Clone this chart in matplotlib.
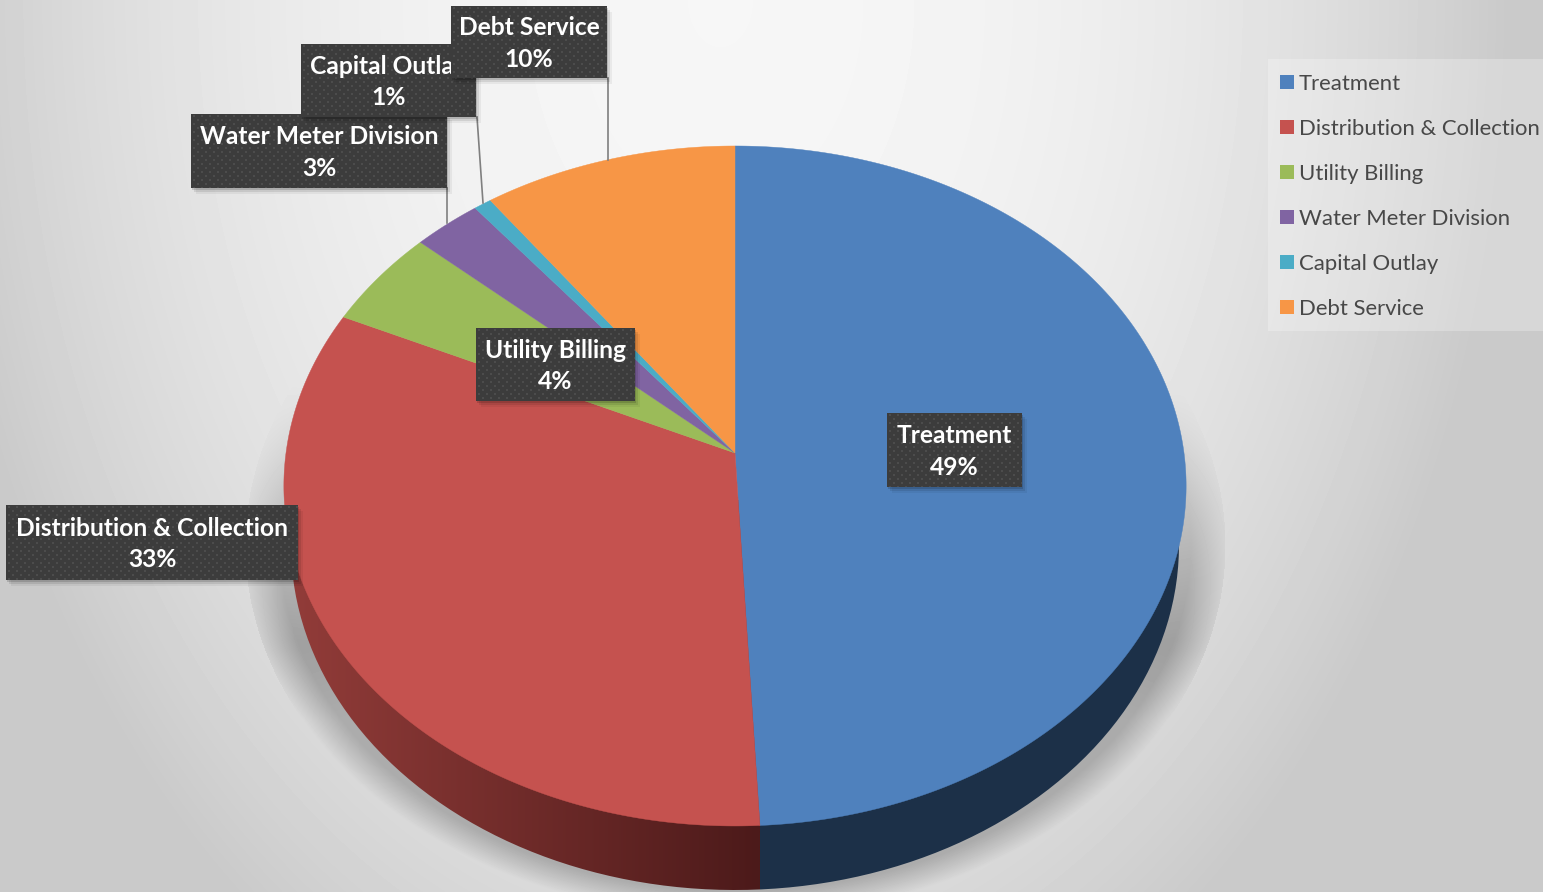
import numpy as np
import matplotlib
matplotlib.use('Agg')
import matplotlib.pyplot as plt
from matplotlib.patches import Rectangle, Patch, PathPatch
from matplotlib.path import Path

plt.rcParams['font.family'] = ['Lato', 'DejaVu Sans']

# Slice shares, labels as printed on it.
names = ['Treatment', 'Distribution & Collection', 'Utility Billing',
         'Water Meter Division', 'Capital Outlay', 'Debt Service']
shares = [49.2, 32.7, 4.7, 2.7, 0.7, 10.0]
printed = ['49%', '33%', '4%', '3%', '1%', '10%']
colors = ['#4f81bd', '#c5524f', '#9bbb59', '#8064a2', '#4bacc6', '#f79646']

# Label boxes in pixels: left, top, right, bottom. Later ones sit on top.
boxes = {'Treatment': (887, 413, 1022, 487),
         'Distribution & Collection': (6, 505, 298, 580),
         'Utility Billing': (476, 328, 635, 401),
         'Water Meter Division': (191, 114, 447, 188),
         'Capital Outlay': (301, 44, 476, 117),
         'Debt Service': (451, 6, 607, 78)}
leaders = [((447, 188), (447, 223)), ((477, 117), (483, 203)), ((608, 78), (608, 160))]

W, H = 1543, 892
fig = plt.figure(figsize=(W / 100, H / 100), dpi=100)
ax = fig.add_axes([0, 0, 1, 1])
ax.axis('off')

# Grey background plus the shadow under the pie.
xx, yy = np.meshgrid(np.arange(W), np.arange(H))
r = np.hypot((xx - 720) / 800, yy / 1150)
bg = np.clip(0.965 - 0.18 * r ** 2.2, 0.79, 1)
rs = np.hypot((xx - 735) / 490, (yy - 545) / 372)
fade = np.clip((yy - 380) / 260, 0, 1)
side = 0.2 * (rs < 1) * np.clip((720 - yy) / 70, 0, 1)
shadow = (np.clip((1 - rs) / 0.07, 0, 1) * 0.8 + side) * fade * 0.27
bg = bg * (1 - shadow)
ax.imshow(bg, cmap='gray', vmin=0, vmax=1, extent=(0, W, H, 0), aspect='auto', zorder=0)

# Tilted disc: unit circle seen in perspective.
cx, apex_y = 735, 453
sx, sy, k = 449, 336.8, 0.097


def project(u, v):
    d = 1 + k * v
    return cx + sx * u / d, apex_y - sy * v / d


# Side wall, an ellipse below the top face.
t = np.linspace(0, 2 * np.pi, 400)
wall = Path(np.column_stack([cx + 444 * np.cos(t), 545 + 345 * np.sin(t)]))

ends = np.cumsum(shares) / np.sum(shares) * 2 * np.pi
starts = np.r_[0, ends[:-1]]
split_x = project(np.sin(ends[0]), np.cos(ends[0]))[0]

grad = np.linspace(0, 1, 256)[None, :, None]
base = np.array([0x92, 0x3c, 0x39]) / 255
dark = np.array([0x4c, 0x1a, 0x1a]) / 255
im = ax.imshow(base * (1 - grad) + dark * grad, extent=(290, split_x, 895, 500),
               aspect='auto', zorder=1)
im.set_clip_path(PathPatch(wall, transform=ax.transData))
blue = Rectangle((split_x, 500), 500, 395, fc='#1c3048', ec='none', zorder=1)
ax.add_patch(blue)
blue.set_clip_path(PathPatch(wall, transform=ax.transData))

# Top face.
for a, b, col in zip(starts, ends, colors):
    th = np.linspace(a, b, max(int((b - a) * 120), 4))
    px, py = project(np.sin(th), np.cos(th))
    ax.fill(np.r_[cx, px], np.r_[apex_y, py], color=col, lw=0.3, zorder=2)

for (p0, p1) in leaders:
    ax.plot([p0[0], p1[0]], [p0[1], p1[1]], color='#7f7f7f', lw=1.2, zorder=3)

# Data labels, in stacking order, on a dotted dark texture.
z = 4
for name in names:
    x0, y0, x1, y1 = boxes[name]
    for off, al in [(7, 0.05), (5, 0.09), (3, 0.14)]:
        ax.add_patch(Rectangle((x0 + off - 2, y0 + off - 1), x1 - x0, y1 - y0, fc='k',
                               ec='none', alpha=al, zorder=z))
    tex = np.full((y1 - y0, x1 - x0), 0x3c / 255)
    for row in range(1, y1 - y0, 4):
        shift = 4 * ((row // 4) % 2)
        tex[row:row + 2, (shift + 2) % 8::8] = 0x4c / 255
        tex[row:row + 2, (shift + 3) % 8::8] = 0x4c / 255
    ax.imshow(tex, cmap='gray', vmin=0, vmax=1, extent=(x0, x1, y1, y0), aspect='auto',
              interpolation='bilinear', zorder=z + 0.1)
    ax.text((x0 + x1) / 2, (y0 + y1) / 2 + 1.5, name + '\n' + printed[names.index(name)],
            color='white', fontsize=17.7, fontweight='bold', ha='center', va='center',
            linespacing=1.47, zorder=z + 0.3)
    z += 1

# Legend panel.
ax.add_patch(Rectangle((1268, 59), W - 1268, 272, fc='white', ec='none', alpha=0.25, zorder=9))
handles = [Patch(fc=c, ec='none', label=n) for c, n in zip(colors, names)]
leg = ax.legend(handles=handles, loc='upper left', bbox_to_anchor=(1280 / W, 1 - 74 / H),
                bbox_transform=fig.transFigure, frameon=False, fontsize=15.9, labelcolor='#484848',
                handlelength=0.63, handleheight=0.63, handletextpad=0.22, labelspacing=1.13,
                borderaxespad=0, borderpad=0)
leg.set_zorder(10)

ax.set_xlim(0, W)
ax.set_ylim(H, 0)
fig.savefig('out.png', dpi=100)
